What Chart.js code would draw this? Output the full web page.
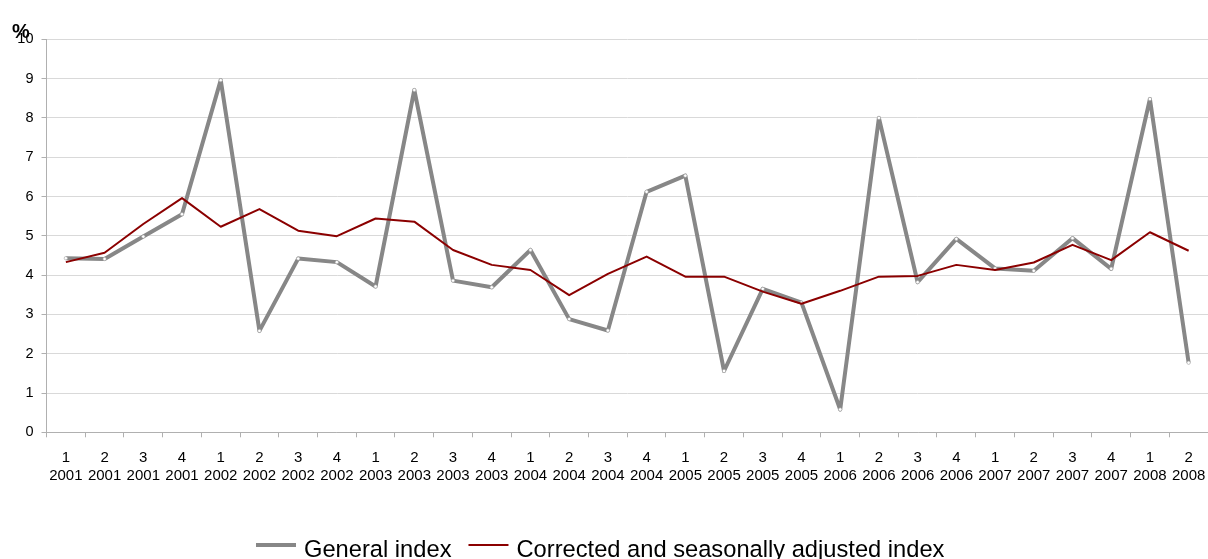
<!DOCTYPE html>
<html>
<head>
<meta charset="utf-8">
<script src="https://cdn.jsdelivr.net/npm/chart.js@4/dist/chart.umd.min.js"></script>
<style>
  html, body { margin: 0; padding: 0; background: #ffffff; }
  #wrap { width: 1208px; height: 559px; }
</style>
</head>
<body>
<div id="wrap"><canvas id="c" width="1208" height="559"></canvas></div>
<script>
// Quarter and year rows of the category axis
const quarters = ['1','2','3','4','1','2','3','4','1','2','3','4','1','2','3','4',
                  '1','2','3','4','1','2','3','4','1','2','3','4','1','2'];
const years = ['2001','2001','2001','2001','2002','2002','2002','2002','2003','2003','2003','2003',
               '2004','2004','2004','2004','2005','2005','2005','2005','2006','2006','2006','2006',
               '2007','2007','2007','2007','2008','2008'];

// Year-on-year change, %
const generalIndex = [4.43, 4.41, 4.98, 5.55, 8.96, 2.58, 4.42, 4.33, 3.71, 8.71,
                      3.86, 3.69, 4.64, 2.88, 2.59, 6.12, 6.53, 1.56, 3.65, 3.30,
                      0.58, 8.00, 3.82, 4.92, 4.17, 4.11, 4.94, 4.16, 8.48, 1.77];
const adjustedIndex = [4.33, 4.57, 5.30, 5.96, 5.23, 5.68, 5.13, 4.99, 5.44, 5.36,
                       4.64, 4.26, 4.13, 3.49, 4.03, 4.47, 3.96, 3.96, 3.58, 3.27,
                       3.60, 3.96, 3.98, 4.26, 4.13, 4.32, 4.77, 4.38, 5.09, 4.62];

const seriesNames = ['General index', 'Corrected and seasonally adjusted index'];
const yTicks = [0, 1, 2, 3, 4, 5, 6, 7, 8, 9, 10];

const FONT = "'Liberation Sans', Arial, sans-serif";
const GRAY = '#878787';
const RED = '#8b0000';
const AXIS = '#b0b0b0';

const labels = quarters.map((q, i) => [q, years[i]]);

// Legend drawn as a single centred row under the axis labels
const bottomLegend = {
  id: 'bottomLegend',
  afterDraw(chart) {
    const ctx = chart.ctx;
    const fontPx = 23.7;
    const sample = 40, gapText = 8, gapItem = 17;
    const lineY = 545, textY = 557;
    ctx.save();
    ctx.font = fontPx + 'px ' + FONT;
    const items = chart.data.datasets.map(ds => ({
      text: ds.label, color: ds.borderColor, width: ds.borderWidth
    }));
    let total = 0;
    items.forEach((it, i) => {
      it.tw = ctx.measureText(it.text).width;
      total += sample + gapText + it.tw + (i < items.length - 1 ? gapItem : 0);
    });
    let x = Math.round(chart.width / 2 - total / 2) - 4;
    items.forEach(it => {
      ctx.beginPath();
      ctx.strokeStyle = it.color;
      ctx.lineWidth = it.width;
      ctx.moveTo(x, lineY);
      ctx.lineTo(x + sample, lineY);
      ctx.stroke();
      x += sample + gapText;
      ctx.fillStyle = '#000000';
      ctx.textBaseline = 'alphabetic';
      ctx.textAlign = 'left';
      ctx.fillText(it.text, x, textY);
      x += it.tw + gapItem;
    });
    ctx.restore();
  }
};

// Unit sign at the top of the value axis
const unitLabel = {
  id: 'unitLabel',
  afterDraw(chart) {
    const ctx = chart.ctx;
    ctx.save();
    ctx.font = 'bold 20px ' + FONT;
    ctx.fillStyle = '#000000';
    ctx.textAlign = 'center';
    ctx.textBaseline = 'alphabetic';
    ctx.fillText('%', 21, 37.5);
    ctx.restore();
  }
};

new Chart(document.getElementById('c'), {
  type: 'line',
  data: {
    labels: labels,
    datasets: [
      {
        label: seriesNames[0],
        data: generalIndex,
        borderColor: GRAY,
        borderWidth: 4,
        borderJoinStyle: 'round',
        borderCapStyle: 'butt',
        pointRadius: 1.7,
        pointBorderWidth: 0.6,
        pointBorderColor: '#a0a0a0',
        pointBackgroundColor: '#ffffff',
        pointHoverRadius: 1.7,
        tension: 0,
        order: 2
      },
      {
        label: seriesNames[1],
        data: adjustedIndex,
        borderColor: RED,
        borderWidth: 2,
        borderJoinStyle: 'round',
        pointRadius: 0,
        tension: 0,
        order: 1
      }
    ]
  },
  options: {
    responsive: false,
    animation: false,
    devicePixelRatio: 1,
    layout: { autoPadding: false, padding: { left: 0, top: 39.3, right: 0, bottom: 76.7 } },
    plugins: {
      legend: { display: false },
      tooltip: { enabled: false }
    },
    scales: {
      x: {
        type: 'category',
        offset: true,
        border: { display: true, color: AXIS, width: 1 },
        grid: {
          offset: true,
          drawOnChartArea: false,
          drawTicks: true,
          tickLength: 5,
          color: AXIS
        },
        ticks: {
          autoSkip: false,
          maxRotation: 0,
          minRotation: 0,
          padding: 11,
          color: '#000000',
          font: { family: FONT, size: 15, lineHeight: 1.22 }
        },
        afterFit(scale) {
          scale.height = 50;
          scale.paddingLeft = 0;
          scale.paddingRight = 0;
        }
      },
      y: {
        min: 0,
        max: 10,
        border: { display: true, color: AXIS, width: 1 },
        grid: {
          color: '#d9d9d9',
          lineWidth: 1,
          drawTicks: true,
          tickLength: 5,
          tickColor: AXIS
        },
        afterBuildTicks(scale) {
          scale.ticks = yTicks.map(v => ({ value: v }));
        },
        ticks: {
          padding: 8,
          color: '#000000',
          font: { family: FONT, size: 14.5 }
        },
        afterFit(scale) { scale.width = 46.5; }
      }
    }
  },
  plugins: [bottomLegend, unitLabel]
});
</script>
</body>
</html>
